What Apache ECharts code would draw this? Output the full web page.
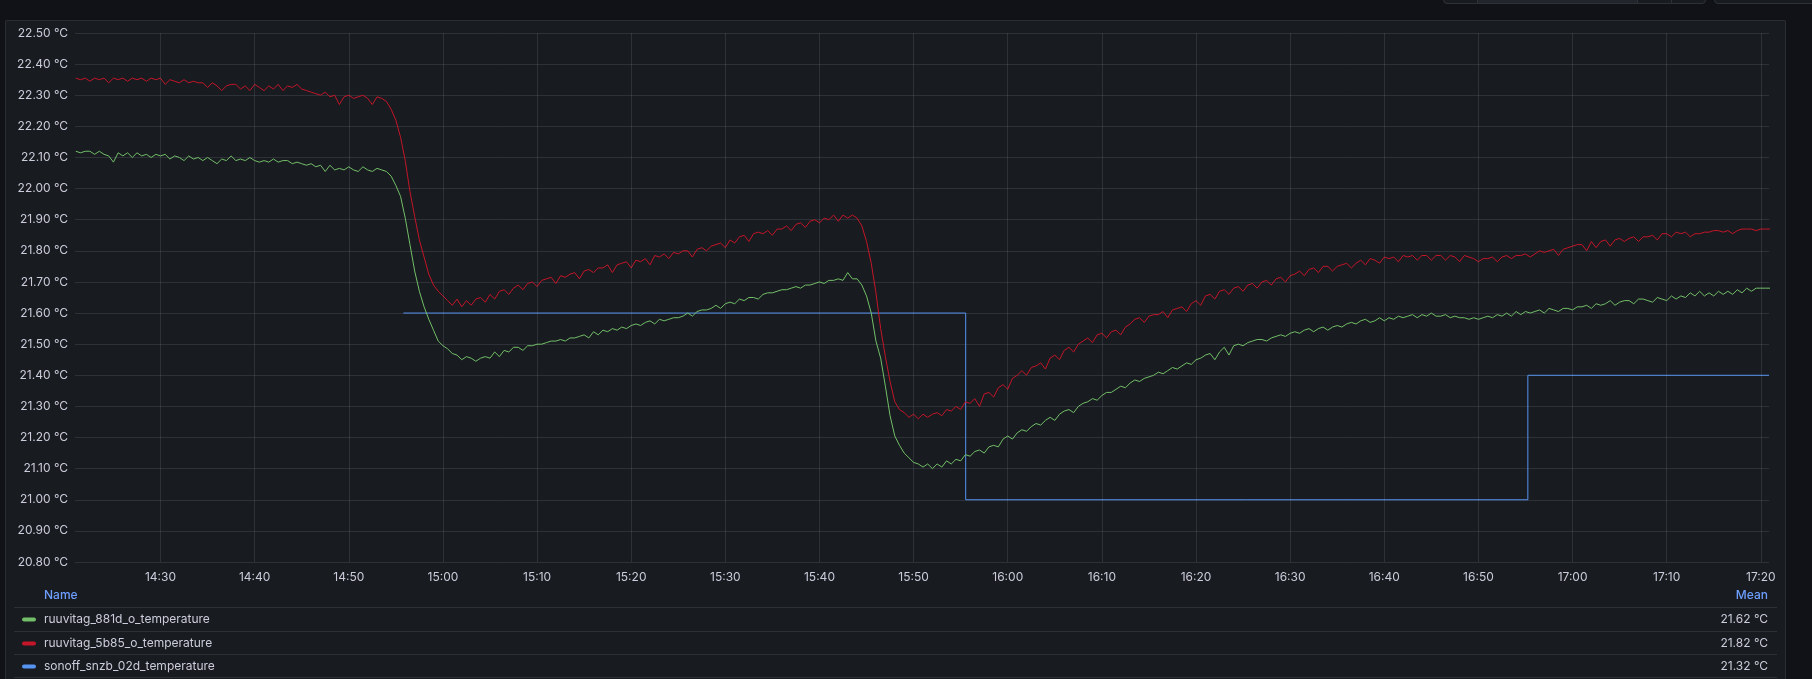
<!DOCTYPE html>
<html>
<head>
<meta charset="utf-8">
<script src="https://cdn.jsdelivr.net/npm/echarts@6/dist/echarts.min.js"></script>
<style>
html,body{margin:0;padding:0;background:#111217;width:1812px;height:679px;overflow:hidden;font-family:Inter,sans-serif;}
#panel{position:absolute;left:5px;top:20px;width:1781px;height:700px;background:#181b1f;border:1px solid rgba(204,204,220,0.10);border-radius:2px;box-sizing:border-box;}
.btn{position:absolute;top:-10px;height:14px;border:1px solid #2e3136;border-radius:4px;background:#181b1f;box-sizing:border-box;}
.seg{position:absolute;top:0;height:100%;border-left:1px solid #2e3136;box-sizing:border-box;}
#chart{position:absolute;left:0;top:0;width:1812px;height:679px;}
</style>
</head>
<body>
<div id="panel"></div>
<div class="btn" style="left:1443px;width:263px;">
  <div class="seg" style="left:33px;width:160px;background:#22252b;"></div>
  <div class="seg" style="left:193px;width:34px;"></div>
  <div class="seg" style="left:227px;width:34px;"></div>
</div>
<div class="btn" style="left:1714px;width:120px;"></div>
<div id="chart"></div>
<script>
// ---- data ----
const seriesNames = ['ruuvitag_881d_o_temperature', 'ruuvitag_5b85_o_temperature', 'sonoff_snzb_02d_temperature'];
const seriesColors = ['#73BF69', '#C4162A', '#5794F2'];
const meanLabels = ['21.62 °C', '21.82 °C', '21.32 °C'];

const sampleStart = '14:21:00';   // first ruuvitag sample
const sampleStepSec = 30;         // ruuvitag samples every 30 s
const axisStart = '14:20:55';
const axisEnd = '17:20:52';
const xTickLabels = ['14:30','14:40','14:50','15:00','15:10','15:20','15:30','15:40','15:50',
                     '16:00','16:10','16:20','16:30','16:40','16:50','17:00','17:10','17:20'];

const greenValues = [
 22.12,22.115,22.12,22.12,22.11,22.12,22.11,22.105,22.085,22.115,
 22.105,22.115,22.10,22.115,22.105,22.11,22.10,22.11,22.105,22.11,
 22.095,22.105,22.10,22.09,22.105,22.095,22.10,22.09,22.10,22.09,
 22.08,22.095,22.09,22.105,22.09,22.095,22.09,22.10,22.09,22.085,
 22.09,22.085,22.095,22.085,22.09,22.09,22.08,22.085,22.08,22.075,
 22.08,22.07,22.075,22.055,22.075,22.06,22.065,22.06,22.07,22.06,
 22.055,22.07,22.06,22.055,22.065,22.06,22.055,22.04,22.01,21.975,
 21.905,21.82,21.735,21.67,21.62,21.58,21.545,21.51,21.495,21.485,
 21.47,21.465,21.45,21.46,21.455,21.445,21.455,21.46,21.455,21.475,
 21.46,21.48,21.475,21.49,21.49,21.48,21.495,21.495,21.50,21.50,
 21.505,21.51,21.51,21.515,21.51,21.52,21.52,21.525,21.53,21.52,
 21.54,21.53,21.545,21.54,21.55,21.545,21.555,21.55,21.56,21.565,
 21.56,21.57,21.575,21.565,21.58,21.575,21.58,21.585,21.585,21.59,
 21.60,21.59,21.605,21.61,21.61,21.615,21.625,21.615,21.63,21.635,
 21.63,21.645,21.64,21.65,21.65,21.645,21.66,21.665,21.665,21.67,
 21.675,21.675,21.68,21.685,21.68,21.69,21.69,21.695,21.70,21.695,
 21.705,21.705,21.71,21.705,21.73,21.71,21.71,21.69,21.655,21.60,
 21.51,21.455,21.365,21.27,21.205,21.175,21.15,21.135,21.12,21.115,
 21.105,21.115,21.10,21.115,21.105,21.125,21.115,21.13,21.125,21.145,
 21.14,21.155,21.16,21.15,21.17,21.175,21.17,21.195,21.205,21.195,
 21.215,21.225,21.22,21.235,21.245,21.24,21.255,21.265,21.255,21.275,
 21.285,21.29,21.28,21.30,21.31,21.315,21.325,21.32,21.335,21.345,
 21.345,21.355,21.365,21.36,21.375,21.385,21.38,21.39,21.395,21.40,
 21.41,21.405,21.415,21.425,21.42,21.43,21.44,21.435,21.45,21.455,
 21.465,21.47,21.45,21.475,21.49,21.465,21.495,21.50,21.495,21.505,
 21.51,21.515,21.515,21.51,21.52,21.525,21.53,21.525,21.535,21.54,
 21.535,21.545,21.55,21.54,21.55,21.555,21.545,21.555,21.56,21.555,
 21.565,21.57,21.565,21.575,21.58,21.57,21.575,21.585,21.575,21.585,
 21.58,21.59,21.585,21.59,21.595,21.585,21.595,21.59,21.60,21.59,
 21.59,21.595,21.585,21.59,21.585,21.585,21.58,21.585,21.58,21.585,
 21.59,21.585,21.595,21.59,21.60,21.59,21.605,21.595,21.605,21.60,
 21.605,21.61,21.60,21.615,21.61,21.605,21.615,21.615,21.61,21.62,
 21.62,21.625,21.615,21.63,21.625,21.63,21.64,21.625,21.635,21.64,
 21.64,21.63,21.645,21.645,21.64,21.635,21.65,21.645,21.64,21.655,
 21.645,21.655,21.65,21.665,21.655,21.67,21.655,21.665,21.655,21.67,
 21.66,21.67,21.66,21.675,21.665,21.68,21.67,21.68,21.68,21.68,
 21.68
];

const redValues = [
 22.355,22.35,22.355,22.345,22.355,22.35,22.355,22.34,22.355,22.35,
 22.355,22.345,22.355,22.35,22.355,22.345,22.355,22.35,22.355,22.335,
 22.35,22.345,22.34,22.35,22.34,22.345,22.34,22.34,22.325,22.34,
 22.33,22.315,22.33,22.335,22.335,22.32,22.33,22.315,22.335,22.325,
 22.315,22.33,22.32,22.335,22.315,22.33,22.325,22.335,22.32,22.315,
 22.31,22.305,22.30,22.31,22.295,22.30,22.27,22.295,22.30,22.29,
 22.295,22.30,22.29,22.27,22.295,22.29,22.28,22.255,22.22,22.165,
 22.09,21.99,21.91,21.835,21.78,21.725,21.69,21.67,21.655,21.64,
 21.625,21.645,21.62,21.64,21.625,21.645,21.65,21.635,21.66,21.645,
 21.67,21.675,21.66,21.68,21.69,21.675,21.695,21.70,21.685,21.705,
 21.71,21.715,21.695,21.72,21.715,21.725,21.73,21.71,21.735,21.74,
 21.73,21.745,21.745,21.755,21.73,21.755,21.76,21.765,21.745,21.77,
 21.765,21.775,21.755,21.785,21.78,21.79,21.775,21.795,21.79,21.80,
 21.80,21.78,21.805,21.81,21.80,21.815,21.82,21.825,21.81,21.835,
 21.825,21.845,21.85,21.83,21.855,21.86,21.855,21.865,21.85,21.87,
 21.87,21.88,21.865,21.885,21.89,21.875,21.895,21.90,21.89,21.905,
 21.90,21.915,21.895,21.915,21.905,21.915,21.905,21.88,21.83,21.76,
 21.665,21.55,21.46,21.38,21.315,21.29,21.28,21.265,21.275,21.26,
 21.275,21.265,21.275,21.28,21.27,21.29,21.285,21.30,21.29,21.315,
 21.31,21.325,21.30,21.34,21.345,21.33,21.36,21.37,21.355,21.39,
 21.40,21.415,21.40,21.425,21.43,21.44,21.42,21.455,21.465,21.45,
 21.48,21.49,21.475,21.50,21.51,21.52,21.505,21.53,21.535,21.52,
 21.54,21.545,21.53,21.555,21.565,21.58,21.585,21.57,21.59,21.595,
 21.595,21.605,21.585,21.61,21.615,21.62,21.605,21.63,21.64,21.625,
 21.655,21.66,21.645,21.67,21.675,21.66,21.68,21.685,21.67,21.69,
 21.695,21.68,21.70,21.705,21.69,21.71,21.715,21.70,21.72,21.725,
 21.735,21.72,21.74,21.745,21.73,21.75,21.75,21.735,21.75,21.755,
 21.76,21.745,21.76,21.77,21.755,21.775,21.77,21.76,21.78,21.775,
 21.78,21.765,21.785,21.78,21.785,21.77,21.785,21.785,21.77,21.785,
 21.785,21.77,21.785,21.78,21.765,21.785,21.78,21.775,21.765,21.775,
 21.775,21.78,21.765,21.78,21.785,21.775,21.785,21.785,21.79,21.78,
 21.79,21.80,21.795,21.80,21.805,21.785,21.805,21.81,21.815,21.82,
 21.82,21.80,21.83,21.81,21.83,21.835,21.815,21.835,21.84,21.83,
 21.84,21.845,21.83,21.845,21.845,21.85,21.835,21.855,21.855,21.845,
 21.86,21.855,21.86,21.845,21.855,21.855,21.86,21.86,21.865,21.865,
 21.86,21.865,21.855,21.865,21.87,21.87,21.87,21.865,21.87,21.87,
 21.87
];

const blueTimes = ['14:55:48', '15:55:32', '16:55:15', '17:20:52'];
const blueValues = [21.6, 21.0, 21.4, 21.4];

const yMin = 20.8, yMax = 22.5, yStep = 0.1;

// ---- helpers ----
const BASE = Date.UTC(2024, 0, 15);
function toMs(hms) {
  const p = hms.split(':').map(Number);
  return BASE + ((p[0] * 60 + p[1]) * 60 + (p[2] || 0)) * 1000;
}
const t0 = toMs(sampleStart);
function pairs(vals) { return vals.map((v, i) => [t0 + i * sampleStepSec * 1000, v]); }
const pad = n => (n < 10 ? '0' : '') + n;
const tickMs = xTickLabels.map(toMs);

const gridColor = 'rgba(204,204,220,0.13)';
const textColor = '#ccccdc';
const font = 'Inter, "Noto Sans", sans-serif';

// ---- legend table (graphic) ----
const graphic = [];
graphic.push({type:'text', x:44, y:595, style:{text:'Name', fill:'#6e9fff', font:'500 12px ' + font, align:'left', verticalAlign:'middle'}});
graphic.push({type:'text', x:1768, y:595, style:{text:'Mean', fill:'#6e9fff', font:'500 12px ' + font, align:'right', verticalAlign:'middle'}});
const sepY = [607.5, 631.5, 654.5, 677.5];
sepY.forEach(y => graphic.push({type:'line', shape:{x1:14, y1:y, x2:1777, y2:y}, style:{stroke:'rgba(204,204,220,0.12)', lineWidth:1}}));
const rowY = [619, 643, 666];
seriesNames.forEach((name, i) => {
  graphic.push({type:'rect', shape:{x:22, y:rowY[i] - 1.5, width:14, height:4, r:2}, style:{fill:seriesColors[i]}});
  graphic.push({type:'text', x:44, y:rowY[i], style:{text:name, fill:textColor, font:'12px ' + font, align:'left', verticalAlign:'middle'}});
  graphic.push({type:'text', x:1768, y:rowY[i], style:{text:meanLabels[i], fill:textColor, font:'12px ' + font, align:'right', verticalAlign:'middle'}});
});

const chart = echarts.init(document.getElementById('chart'), null, {renderer:'canvas'});
chart.setOption({
  useUTC: true,
  animation: false,
  backgroundColor: 'transparent',
  textStyle: {fontFamily: font},
  grid: {left:75, right:43, top:33, bottom:117, containLabel:false},
  xAxis: {
    type: 'time',
    min: toMs(axisStart),
    max: toMs(axisEnd),
    splitNumber: 18,
    minInterval: 600000,
    maxInterval: 600000,
    axisLine: {show:false},
    axisTick: {show:false},
    axisLabel: {
      color: textColor, fontSize: 12, fontFamily: font, margin: 9,
      hideOverlap: false,
      formatter: function (v) {
        if (tickMs.indexOf(v) < 0) return '';
        const d = new Date(v);
        return pad(d.getUTCHours()) + ':' + pad(d.getUTCMinutes());
      }
    },
    splitLine: {show:false}
  },
  yAxis: {
    type: 'value',
    min: yMin, max: yMax, interval: yStep,
    axisLine: {show:false},
    axisTick: {show:false},
    axisLabel: {
      color: textColor, fontSize: 12, fontFamily: font, margin: 7,
      formatter: v => v.toFixed(2) + ' °C'
    },
    splitLine: {show:true, lineStyle:{color:gridColor, width:1}}
  },
  series: [
    {name: 'grid-x', type:'line', data: [], silent:true, z:1,
     markLine: {silent:true, symbol:['none','none'], animation:false,
       label:{show:false}, emphasis:{disabled:true},
       lineStyle:{color:gridColor, width:1, type:'solid'},
       data: tickMs.map(t => ({xAxis: t}))}},
    {name: seriesNames[0], type:'line', data: pairs(greenValues), showSymbol:false, symbol:'none',
     lineStyle:{color:seriesColors[0], width:1}, itemStyle:{color:seriesColors[0]}, z:3},
    {name: seriesNames[1], type:'line', data: pairs(redValues), showSymbol:false, symbol:'none',
     lineStyle:{color:seriesColors[1], width:1}, itemStyle:{color:seriesColors[1]}, z:3},
    {name: seriesNames[2], type:'line', step:'end', data: blueTimes.map((t, i) => [toMs(t), blueValues[i]]),
     showSymbol:false, symbol:'none', lineStyle:{color:seriesColors[2], width:1}, itemStyle:{color:seriesColors[2]}, z:2}
  ],
  graphic: graphic
});
</script>
</body>
</html>
